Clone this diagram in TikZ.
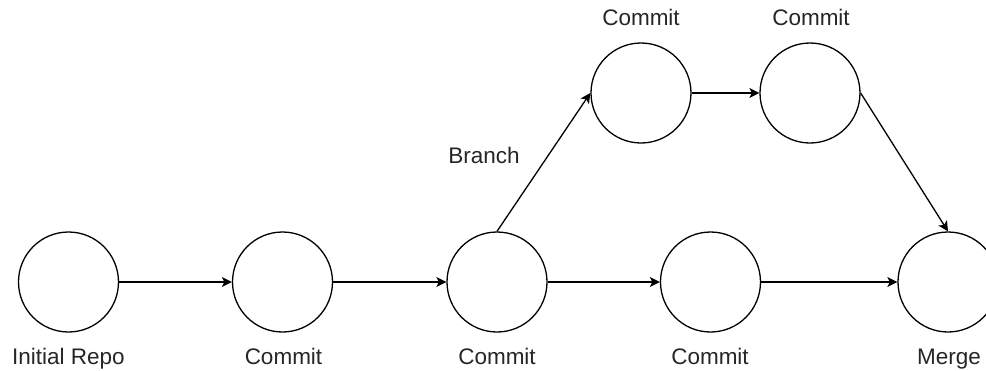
\documentclass[tikz,border=0pt]{standalone}
\usepackage{fontspec}
\setmainfont{Liberation Sans}
\usetikzlibrary{arrows.meta}

\tikzset{
  commit/.style={draw=black, line width=1.3pt, circle, minimum size=100pt, inner sep=0pt},
  lbl/.style={anchor=base, inner sep=0pt, font=\fontsize{22.5}{26}\selectfont, text=black!85},
  edge/.style={line width=1.3pt, -{Stealth[length=10pt, width=10pt, inset=2.5pt]}}
}

\begin{document}
\begin{tikzpicture}[x=1pt, y=-1pt]
\useasboundingbox (0,0) rectangle (986,370);
% main line
\node [commit] (init) at (68.5, 282) {};
\node [commit] (c1) at (282.5, 282) {};
\node [commit] (c2) at (497, 282) {};
\node [commit] (c3) at (710.5, 282) {};
\node [commit] (merge) at (948, 282) {};
% branch
\node [commit] (b1) at (641, 93) {};
\node [commit] (b2) at (810, 93) {};
% labels
\node [lbl] (linit) at (68.5, 364) {Initial Repo};
\node [lbl] (lc1) at (283.5, 364) {Commit};
\node [lbl] (lc2) at (497, 364) {Commit};
\node [lbl] (lc3) at (710, 364) {Commit};
\node [lbl] (lmerge) at (949, 364) {Merge};
\node [lbl] (lb1) at (641, 25) {Commit};
\node [lbl] (lb2) at (811, 25) {Commit};
\node [lbl] (lbranch) at (484, 163) {Branch};
% arrows
\draw [edge] (init) -- (c1);
\draw [edge] (c1) -- (c2);
\draw [edge] (c2) -- (c3);
\draw [edge] (c3) -- (merge);
\draw [edge] (c2.north) -- (b1.west);
\draw [edge] (b1) -- (b2);
\draw [edge] (b2.east) -- (merge.north);
\end{tikzpicture}
\end{document}
